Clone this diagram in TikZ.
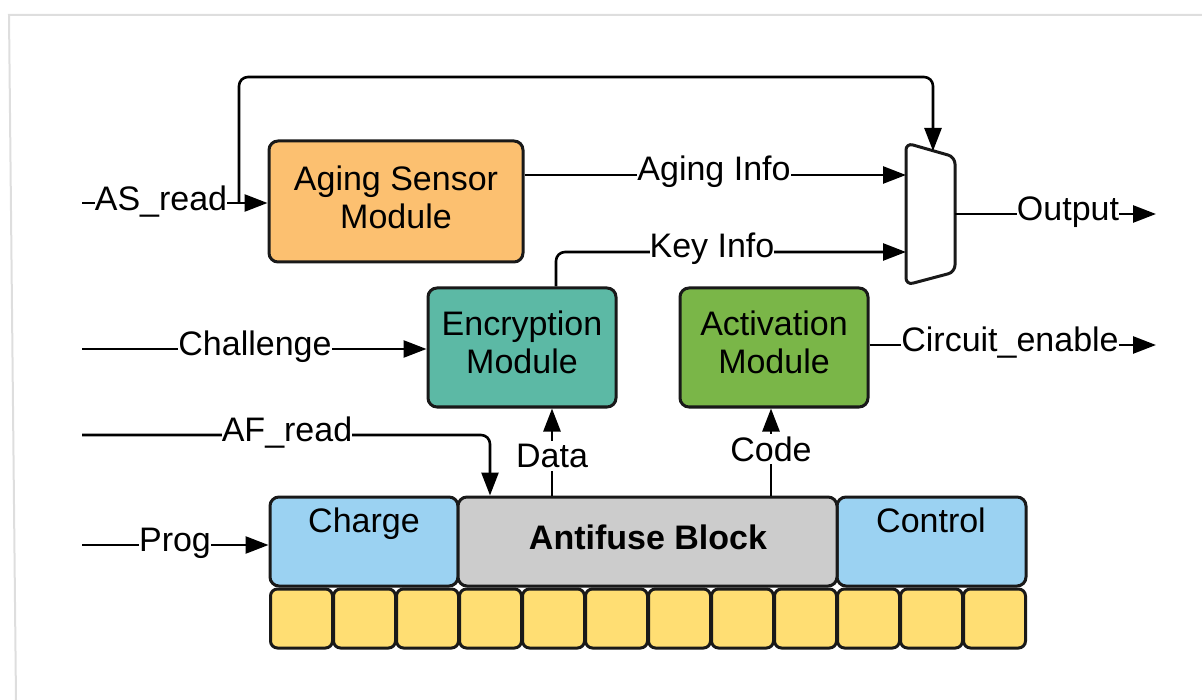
\documentclass[tikz,border=0pt]{standalone}
\usepackage{fontspec}
\setmainfont{Liberation Sans}
\usetikzlibrary{arrows.meta}
\definecolor{agingfill}{RGB}{252,192,112}
\definecolor{encfill}{RGB}{92,185,165}
\definecolor{actfill}{RGB}{122,182,72}
\definecolor{bluefill}{RGB}{155,210,242}
\definecolor{greyfill}{RGB}{204,204,204}
\definecolor{cellfill}{RGB}{255,222,115}
\definecolor{framegrey}{RGB}{222,222,222}
\begin{document}
\begin{tikzpicture}[x=1pt,y=-1pt,
  every node/.style={font=\fontsize{34}{38}\selectfont, text=black},
  wire/.style={line width=2.6pt, draw=black, line join=round},
  flow/.style={wire, -{Triangle[length=23pt,width=17pt]}},
  lbl/.style={fill=white, inner sep=0pt},
  module/.style={draw=black!90, line width=3pt, rounded corners=9pt,
                 inner sep=0pt},
  boxtext/.style={align=center, inner sep=0pt},
  cellbox/.style={draw=black!90, line width=3pt, rounded corners=7pt,
                  fill=cellfill, minimum width=62pt, minimum height=59pt}]

\useasboundingbox (0,0) rectangle (1202,700);

% outer frame
\draw[framegrey, line width=2pt] (1202,15) -- (9,15) -- (16,700);

% ---- modules ----
\node[module, fill=agingfill, minimum width=254pt, minimum height=121pt]
  (aging) at (396,201.5) {};
\node[module, fill=encfill, minimum width=188pt, minimum height=119pt]
  (enc) at (522,347.5) {};
\node[module, fill=actfill, minimum width=188pt, minimum height=119pt]
  (act) at (774,347.5) {};
\node[boxtext] (agingtxt) at (396,197) {Aging Sensor\\Module};
\node[boxtext] (enctxt) at (522,342) {Encryption\\Module};
\node[boxtext] (acttxt) at (774,342) {Activation\\Module};

% ---- antifuse row ----
\node[module, fill=bluefill, minimum width=188pt, minimum height=89pt]
  (charge) at (364,541.5) {};
\node[module, fill=bluefill, minimum width=189pt, minimum height=89pt]
  (control) at (931.5,541.5) {};
\node[module, fill=greyfill, minimum width=379pt, minimum height=89pt]
  (antifuse) at (647.5,541.5) {};
\node[anchor=base, inner sep=0pt] (afuse) at (648,549) {\bfseries Antifuse Block};
\node[anchor=base, inner sep=0pt] (chargetxt) at (364,532) {Charge};
\node[anchor=base, inner sep=0pt] (controltxt) at (931,532) {Control};

% ---- memory cells ----
\foreach \i in {0,...,11}
  \node[cellbox] (cell\i) at ({270+63*(\i+0.5)},618.5) {};

% ---- multiplexer ----
\coordinate (muxtl) at (906,143);
\coordinate (muxtr) at (955,157);
\coordinate (muxbr) at (955,272);
\coordinate (muxbl) at (906,285);
\draw[draw=black!90, line width=3pt, fill=white, rounded corners=7pt]
  (muxtl) -- (muxtr) -- (muxbr) -- (muxbl) -- cycle;
\coordinate (muxsel) at (933,151);
\coordinate (muxa) at (906,175);
\coordinate (muxb) at (906,252);
\coordinate (muxout) at (955,214);

% ---- external ends ----
\coordinate (asin) at (82,203);
\coordinate (asbranch) at (239,203);
\coordinate (chin) at (82,349);
\coordinate (afin) at (82,435);
\coordinate (progin) at (82,545);
\coordinate (outend) at (1156,214);
\coordinate (ceend) at (1156,345);

% ---- connectors ----
\draw[flow] (asin) -- (aging.west |- asin);
\draw[flow, rounded corners=9pt] (asbranch) -- (239,77) -- (933,77) -- (muxsel);
\draw[flow] (aging.east |- muxa) -- (muxa);
\draw[flow, rounded corners=9pt] (enc.north -| 556,0) -- (556,252) -- (muxb);
\draw[flow] (muxout) -- (outend);
\draw[flow] (chin) -- (enc.west |- chin);
\draw[flow] (act.east |- ceend) -- (ceend);
\draw[flow, rounded corners=9pt] (afin) -- (490,435) -- (antifuse.north -| 490,0);
\draw[flow] (antifuse.north -| 552,0) -- (enc.south -| 552,0);
\draw[flow] (antifuse.north -| 771,0) -- (act.south -| 771,0);
\draw[flow] (progin) -- (charge.west |- progin);

% ---- signal labels ----
\node[lbl] (las) at (161,202) {AS\_read};
\node[lbl] (lage) at (714,172) {Aging Info};
\node[lbl] (lkey) at (712,249) {Key Info};
\node[lbl] (lout) at (1068,212) {Output};
\node[lbl] (lch) at (255,347) {Challenge};
\node[lbl] (lce) at (1010,343) {Circuit\_enable};
\node[lbl] (laf) at (287,433) {AF\_read};
\node[lbl, inner sep=3pt] (ldata) at (552,456) {Data};
\node[lbl, inner sep=3pt] (lcode) at (771,449) {Code};
\node[lbl] (lprog) at (175,543) {Prog};
\end{tikzpicture}
\end{document}
